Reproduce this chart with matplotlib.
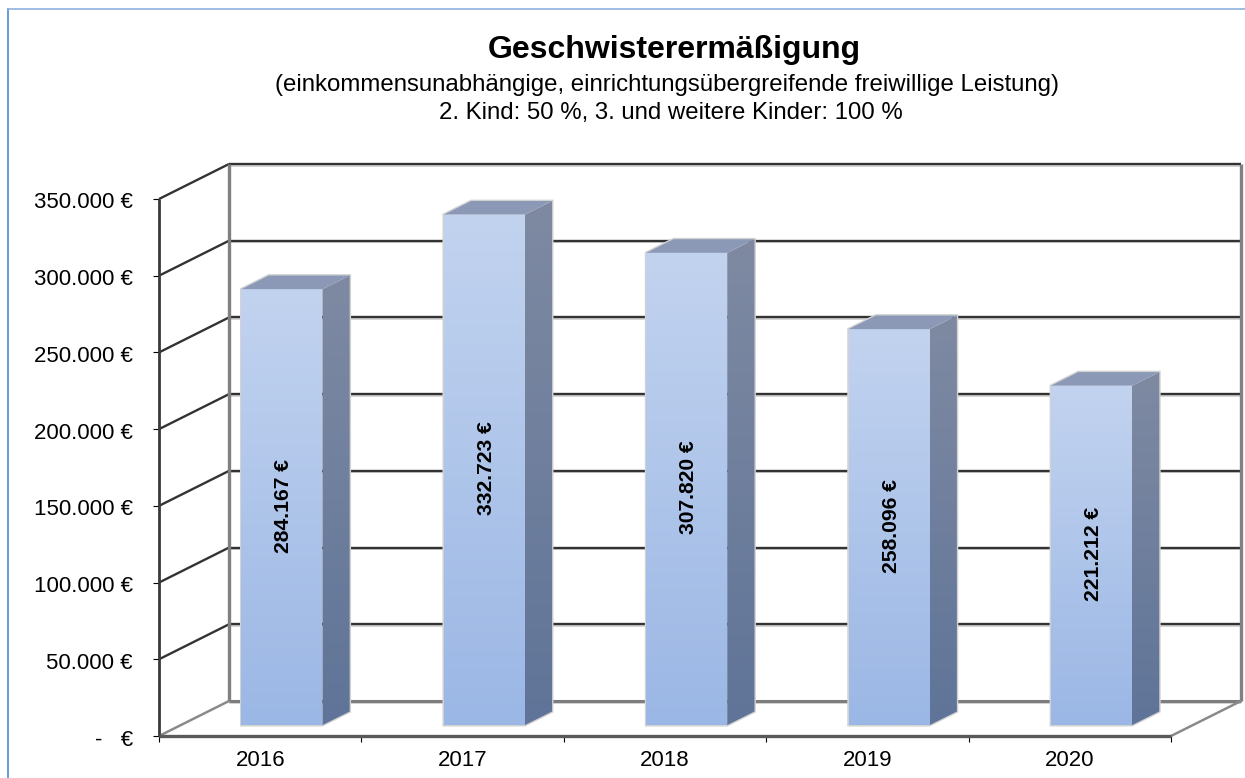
import numpy as np
import matplotlib
matplotlib.use('Agg')
import matplotlib.pyplot as plt
from matplotlib.patches import Polygon
from matplotlib.transforms import ScaledTranslation

plt.rcParams['font.family'] = ['Liberation Sans', 'DejaVu Sans']

years = ['2016', '2017', '2018', '2019', '2020']
values = [284167, 332723, 307820, 258096, 221212]
bar_labels = ['284.167 €', '332.723 €', '307.820 €', '258.096 €', '221.212 €']
y_ticks = [0, 50000, 100000, 150000, 200000, 250000, 300000, 350000]
y_labels = ['-   €', '50.000 €', '100.000 €', '150.000 €', '200.000 €',
            '250.000 €', '300.000 €', '350.000 €']

W, H = 1245, 778
fig = plt.figure(figsize=(W / 100, H / 100), dpi=100, facecolor='white')

# front plane of the fake 3d box, in pixels
left, right, top, bottom = 159, 1171, 199, 736
ax = fig.add_axes((left / W, 1 - bottom / H, (right - left) / W, (bottom - top) / H))
ax.set_xlim(0, 5)
ax.set_ylim(0, 350000)
for s in ax.spines.values():
    s.set_visible(False)

# depth of the box in data units
dx = 70 / 202.4
dy = 35 / (bottom - top) * 350000


def proj(x, y, d):
    return x + d * dx, y + d * dy


def line(xs, ys, **kw):
    ax.plot(xs, ys, clip_on=False, solid_capstyle='butt', **kw)


# walls
dark = dict(color='#333333', lw=1.7, zorder=2)
grey = dict(color='#7d7d7d', lw=2.2, zorder=2)
for v in y_ticks:
    bx0, by = proj(0, v, 1)
    bx1, _ = proj(5, v, 1)
    style = grey if v == 0 else dark
    line([bx0, bx1], [by - 1000, by - 1000], color='#d4d4d4', lw=1.4, zorder=1.5)
    line([bx0, bx1], [by, by], **style)
    line([0, bx0], [v, by], **(dict(color='#8a8a8a', lw=1.8, zorder=2) if v == 0 else dark))
bx0, by0 = proj(0, 0, 1)
bx1, by1 = proj(5, 350000, 1)
line([bx0, bx0], [by0, by1], color='#808080', lw=2.4, zorder=2)
line([bx1, bx1], [by0, by1], color='#808080', lw=2.4, zorder=2)
line([5, bx1], [0, by0], color='#8a8a8a', lw=1.8, zorder=2)
line([0, 0], [0, 350000], color='#3a3a3a', lw=2, zorder=6)
line([0, 5], [0, 0], color='#5a5a5a', lw=2.4, zorder=6)

bar_w = 0.4
d0, d1 = 0.31, 0.70
front_grad = np.linspace(0, 1, 256).reshape(-1, 1)


def shaded(poly, c_top, c_bot, z):
    # vertical gradient clipped to a polygon
    c_top = np.array(matplotlib.colors.to_rgb(c_top))
    c_bot = np.array(matplotlib.colors.to_rgb(c_bot))
    img = (c_top * (1 - front_grad[..., None]) + c_bot * front_grad[..., None])
    xs, ys = zip(*poly)
    im = ax.imshow(img, extent=(min(xs), max(xs), min(ys), max(ys)), aspect='auto',
                   origin='upper', zorder=z, interpolation='bilinear')
    patch = Polygon(poly, closed=True, transform=ax.transData)
    im.set_clip_path(patch)
    im.set_clip_on(True)


for i, v in enumerate(values):
    c = i + 0.5
    xl, xr = c - bar_w / 2, c + bar_w / 2
    fl = proj(xl, 0, d0)
    fr = proj(xr, 0, d0)
    tl = proj(xl, v, d0)
    tr = proj(xr, v, d0)
    br0 = proj(xr, 0, d1)
    br1 = proj(xr, v, d1)
    bl1 = proj(xl, v, d1)
    z = 3 + i * 0.1
    # soft outline
    ax.add_patch(Polygon([fl, fr, br0, br1, bl1, tl], closed=True, fc='none',
                         ec='#d2d2d2', lw=2, zorder=z, clip_on=False))
    shaded([fl, fr, tr, tl], '#c2d3ef', '#9bb7e5', z + 0.01)
    shaded([fr, br0, br1, tr], '#7f8aa2', '#5f7498', z + 0.01)
    ax.add_patch(Polygon([tl, tr, br1, bl1], closed=True, fc='#8b99b6', ec='none',
                         zorder=z + 0.01, clip_on=False))
    lx, ly = proj(c, v / 2, d0)
    ax.annotate(bar_labels[i], (lx, ly), xytext=(1.5, 1), textcoords='offset points',
                rotation=90, ha='center', va='center',
                fontsize=15.2, fontweight='bold', color='black', zorder=7)

ax.set_xlim(0, 5)
ax.set_ylim(0, 350000)
ax.patch.set_alpha(0)
ax.set_yticks(y_ticks, y_labels, fontsize=16, color='black')
ax.set_xticks(np.arange(6))
ax.set_xticklabels([])
ax.set_xticks(np.arange(5) + 0.5, years, minor=True, fontsize=16, color='black')
ax.tick_params(axis='y', length=4.5, width=0.8, pad=14.3, color='black')
ax.tick_params(axis='x', which='major', length=4, width=0.8, color='black', direction='out')
ax.tick_params(axis='x', which='minor', length=0, pad=10)
shift = ScaledTranslation(0, -1.5 / 100, fig.dpi_scale_trans)
for t in ax.get_yticklabels():
    t.set_transform(t.get_transform() + shift)

# outer chart border, top and left only
bg = fig.add_axes((0, 0, 1, 1), zorder=-1)
bg.set_xlim(0, W)
bg.set_ylim(H, 0)
bg.axis('off')
bg.plot([8, 8], [9, H], color='#4f88d3', lw=1.2)
bg.plot([8, W], [9, 9], color='#8fb0dc', lw=1.2)

fig.text(674 / W, 1 - 58 / H, 'Geschwisterermäßigung', ha='center', va='baseline',
         fontsize=23, fontweight='bold', color='black')
fig.text(667 / W, 1 - 91 / H,
         '(einkommensunabhängige, einrichtungsübergreifende freiwillige Leistung)',
         ha='center', va='baseline', fontsize=17.3, color='black')
fig.text(670.5 / W, 1 - 119 / H, '2. Kind: 50 %, 3. und weitere Kinder: 100 %',
         ha='center', va='baseline', fontsize=17.3, color='black')

fig.savefig('out.png', dpi=100, facecolor='white')
